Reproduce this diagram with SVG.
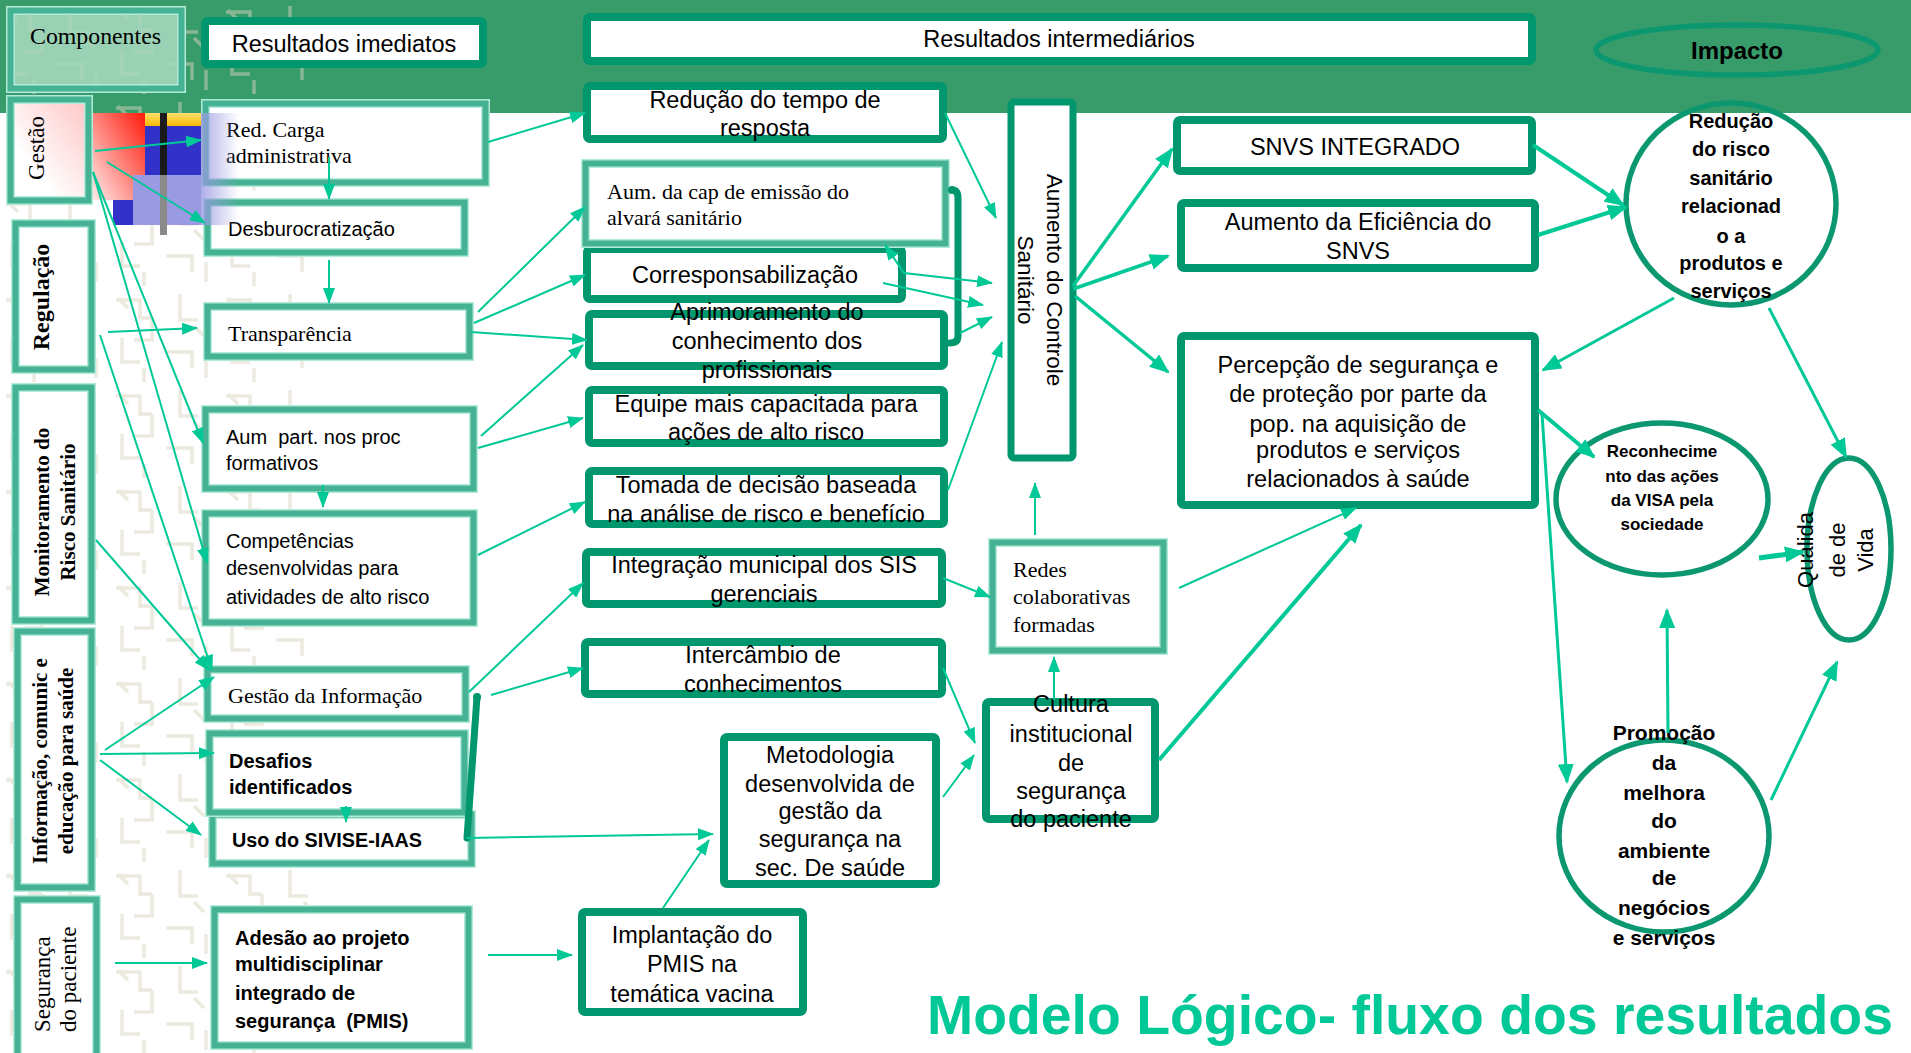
<svg xmlns="http://www.w3.org/2000/svg" width="1911" height="1053" viewBox="0 0 1911 1053">
<defs>
<style>
.tbl{fill:#fff;stroke:#b4eada;stroke-width:9}
.tb{fill:none;stroke:#45b393;stroke-width:6}
.db{fill:#fff;stroke:#00966e;stroke-width:8}
.el{fill:none;stroke:#0b9870;stroke-width:5.5}
.c{fill:none;stroke:#00c896;stroke-width:2;marker-end:url(#a)}
.ct{fill:none;stroke:#00c896;stroke-width:4;marker-end:url(#b)}
.br{fill:none;stroke:#00966e;stroke-width:7;stroke-linecap:round;stroke-linejoin:round}
.sans{font-family:"Liberation Sans",Arial,sans-serif;fill:#000}
.serif{font-family:"Liberation Serif","Times New Roman",serif;fill:#000}
.mid{font-family:"Liberation Sans",Arial,sans-serif;font-size:23.5px;text-anchor:middle;fill:#000}
.lr{font-family:"Liberation Sans",Arial,sans-serif;font-size:20px;fill:#000}
.lrb{font-family:"Liberation Sans",Arial,sans-serif;font-size:20px;font-weight:bold;fill:#000}
.sr{font-family:"Liberation Serif","Times New Roman",serif;font-size:22px;fill:#000}
.eb{font-family:"Liberation Sans",Arial,sans-serif;font-weight:bold;text-anchor:middle;fill:#000}
.rot{font-family:"Liberation Serif","Times New Roman",serif;font-weight:bold;text-anchor:middle;fill:#000}
</style>
<marker id="a" viewBox="0 0 16 12" refX="15" refY="6" markerWidth="16" markerHeight="12" markerUnits="userSpaceOnUse" orient="auto-start-reverse"><path d="M0,0 L16,6 L0,12 z" fill="#00c896"/></marker>
<marker id="b" viewBox="0 0 20 16" refX="18" refY="8" markerWidth="20" markerHeight="16" markerUnits="userSpaceOnUse" orient="auto"><path d="M0,0 L20,8 L0,16 z" fill="#00c896"/></marker>
<pattern id="tex" width="110" height="96" patternUnits="userSpaceOnUse">
<path d="M6 12 h24 v18 h12 M42 30 v22 h-18 M70 6 v26 h18 M12 50 v24 h18 M56 64 h26 v16 M34 80 v14 M84 38 l10 10 M18 20 l-10 -10 M96 70 v20" stroke="#d8d2bd" stroke-width="3.5" fill="none"/>
</pattern>
<linearGradient id="redg" x1="0" y1="1" x2="1" y2="0"><stop offset="0" stop-color="#ffe9e9"/><stop offset="1" stop-color="#ff1a0a"/></linearGradient>
<linearGradient id="pinkg" x1="0" y1="1" x2="1" y2="0"><stop offset="0.3" stop-color="#ffffff"/><stop offset="1" stop-color="#ffc4c4"/></linearGradient>
<linearGradient id="fade" x1="0" y1="0" x2="1" y2="0"><stop offset="0" stop-color="#9a9ae2" stop-opacity="0.8"/><stop offset="1" stop-color="#9a9ae2" stop-opacity="0"/></linearGradient>
<linearGradient id="yel" x1="0" y1="0" x2="0" y2="1"><stop offset="0" stop-color="#ffe070"/><stop offset="1" stop-color="#f5b800"/></linearGradient>
</defs>

<rect x="0" y="0" width="1911" height="1053" fill="#fff"/>
<rect id="header-band" x="0" y="0" width="1911" height="113" fill="#389b6a"/>
<rect x="0" y="0" width="310" height="1053" fill="url(#tex)" opacity="0.5"/>

<g id="componentes">
<rect x="10.5" y="10.5" width="171" height="78" fill="#a6d8bf" fill-opacity="0.88" stroke="#b4eada" stroke-width="9"/>
<rect x="10.5" y="10.5" width="171" height="78" class="tb"/>
<text class="serif" x="30" y="44" font-size="23" textLength="131" lengthAdjust="spacingAndGlyphs">Componentes</text>
</g>
<g id="resultados-imediatos">
<rect x="205" y="21" width="278" height="43" rx="3" class="db"/>
<text class="mid" x="344" y="52" font-size="22.5">Resultados imediatos</text>
</g>
<g id="resultados-intermediarios">
<rect x="587" y="17" width="945" height="44" rx="3" class="db"/>
<text class="mid" x="1059" y="47" font-size="22.5">Resultados intermediários</text>
</g>
<g id="impacto">
<ellipse cx="1737" cy="50" rx="141" ry="25" class="el"/>
<text class="eb" x="1737" y="59" font-size="24">Impacto</text>
</g>

<g id="gestao">
<rect x="10.5" y="99.5" width="78" height="101" fill="url(#pinkg)" stroke="#b4eada" stroke-width="9"/>
<rect x="10.5" y="99.5" width="78" height="101" class="tb"/>
<text class="serif" transform="translate(44,148) rotate(-90)" text-anchor="middle" font-size="23">Gestão</text>
</g>
<g id="regulacao">
<rect x="15.5" y="223.5" width="76" height="146" class="tbl"/><rect x="15.5" y="223.5" width="76" height="146" class="tb"/>
<text class="rot" transform="translate(49,297) rotate(-90)" font-size="24">Regulação</text>
</g>
<g id="monitoramento">
<rect x="15.5" y="387.5" width="76" height="233" class="tbl"/><rect x="15.5" y="387.5" width="76" height="233" class="tb"/>
<text class="rot" transform="translate(49,512) rotate(-90)" font-size="21">Monitoramento do</text>
<text class="rot" transform="translate(75,512) rotate(-90)" font-size="21">Risco Sanitário</text>
</g>
<g id="informacao">
<rect x="17.5" y="631.5" width="74" height="256" class="tbl"/><rect x="17.5" y="631.5" width="74" height="256" class="tb"/>
<text class="rot" transform="translate(47,761) rotate(-90)" font-size="21">Informação, comunic e</text>
<text class="rot" transform="translate(73,761) rotate(-90)" font-size="21">educação para saúde</text>
</g>
<g id="seguranca">
<rect x="17.5" y="899.5" width="79" height="170" class="tbl"/><rect x="17.5" y="899.5" width="79" height="170" class="tb"/>
<text class="serif" transform="translate(50,1032) rotate(-90)" font-size="23">Segurança</text>
<text class="serif" transform="translate(76,1032) rotate(-90)" font-size="23">do paciente</text>
</g>

<g id="red-carga">
<rect x="205.5" y="103.5" width="280" height="79" class="tbl"/><rect x="205.5" y="103.5" width="280" height="79" class="tb"/>
<text class="sr" x="226" y="137">Red. Carga</text>
<text class="sr" x="226" y="163">administrativa</text>
</g>
<g id="desburocratizacao">
<rect x="207.5" y="202.5" width="257" height="50" class="tbl"/><rect x="207.5" y="202.5" width="257" height="50" class="tb"/>
<text class="lr" x="228" y="236" font-size="21">Desburocratização</text>
</g>
<g id="transparencia">
<rect x="207.5" y="306.5" width="262" height="50" class="tbl"/><rect x="207.5" y="306.5" width="262" height="50" class="tb"/>
<text class="sr" x="228" y="341">Transparência</text>
</g>
<g id="aum-part">
<rect x="205.5" y="409.5" width="268" height="79" class="tbl"/><rect x="205.5" y="409.5" width="268" height="79" class="tb"/>
<text class="lr" x="226" y="444" xml:space="preserve">Aum  part. nos proc</text>
<text class="lr" x="226" y="470">formativos</text>
</g>
<g id="competencias">
<rect x="205.5" y="513.5" width="268" height="109" class="tbl"/><rect x="205.5" y="513.5" width="268" height="109" class="tb"/>
<text class="lr" x="226" y="548">Competências</text>
<text class="lr" x="226" y="575">desenvolvidas para</text>
<text class="lr" x="226" y="604">atividades de alto risco</text>
</g>
<g id="gestao-informacao">
<rect x="207.5" y="669.5" width="258" height="49" class="tbl"/><rect x="207.5" y="669.5" width="258" height="49" class="tb"/>
<text class="sr" x="228" y="703">Gestão da Informação</text>
</g>
<g id="uso-sivise">
<rect x="212.5" y="814.5" width="259" height="49" class="tbl"/><rect x="212.5" y="814.5" width="259" height="49" class="tb"/>
<text class="lrb" x="232" y="847" textLength="190" lengthAdjust="spacingAndGlyphs">Uso do SIVISE-IAAS</text>
</g>
<g id="desafios">
<rect x="209.5" y="733.5" width="255" height="79" class="tbl"/><rect x="209.5" y="733.5" width="255" height="79" class="tb"/>
<text class="lrb" x="229" y="768">Desafios</text>
<text class="lrb" x="229" y="794">identificados</text>
</g>
<g id="adesao">
<rect x="214.5" y="909.5" width="254" height="136" class="tbl"/><rect x="214.5" y="909.5" width="254" height="136" class="tb"/>
<text class="lrb" x="235" y="945">Adesão ao projeto</text>
<text class="lrb" x="235" y="971">multidisciplinar</text>
<text class="lrb" x="235" y="1000">integrado de</text>
<text class="lrb" x="235" y="1028" xml:space="preserve">segurança  (PMIS)</text>
</g>

<g id="reducao-tempo">
<rect x="587" y="86" width="356" height="53" rx="3" class="db"/>
<text class="mid" x="765" y="108">Redução do tempo de</text>
<text class="mid" x="765" y="136">resposta</text>
</g>
<g id="corresponsabilizacao">
<rect x="587" y="249" width="315" height="50" rx="3" class="db"/>
<text class="mid" x="745" y="283">Corresponsabilização</text>
</g>
<g id="aum-cap">
<rect x="585.5" y="163.5" width="360" height="80" class="tbl"/><rect x="585.5" y="163.5" width="360" height="80" class="tb"/>
<text class="sr" x="607" y="199">Aum. da cap de emissão do</text>
<text class="sr" x="607" y="225">alvará sanitário</text>
</g>
<g id="aprimoramento">
<rect x="589" y="314" width="355" height="52" rx="3" class="db"/>
<text class="mid" x="767" y="320">Aprimoramento do</text>
<text class="mid" x="767" y="349">conhecimento dos</text>
<text class="mid" x="767" y="378">profissionais</text>
</g>
<g id="equipe">
<rect x="589" y="390" width="355" height="53" rx="3" class="db"/>
<text class="mid" x="766" y="412">Equipe mais capacitada para</text>
<text class="mid" x="766" y="440">ações de alto risco</text>
</g>
<g id="tomada">
<rect x="589" y="471" width="355" height="53" rx="3" class="db"/>
<text class="mid" x="766" y="493">Tomada de decisão baseada</text>
<text class="mid" x="766" y="522">na análise de risco e benefício</text>
</g>
<g id="integracao">
<rect x="586" y="552" width="356" height="52" rx="3" class="db"/>
<text class="mid" x="764" y="573">Integração municipal dos SIS</text>
<text class="mid" x="764" y="602">gerenciais</text>
</g>
<g id="intercambio">
<rect x="585" y="642" width="357" height="52" rx="3" class="db"/>
<text class="mid" x="763" y="663">Intercâmbio de</text>
<text class="mid" x="763" y="692">conhecimentos</text>
</g>
<g id="metodologia">
<rect x="724" y="737" width="212" height="147" rx="3" class="db"/>
<text class="mid" x="830" y="763">Metodologia</text>
<text class="mid" x="830" y="792">desenvolvida de</text>
<text class="mid" x="830" y="819">gestão da</text>
<text class="mid" x="830" y="847">segurança na</text>
<text class="mid" x="830" y="876">sec. De saúde</text>
</g>
<g id="implantacao">
<rect x="582" y="912" width="221" height="100" rx="3" class="db"/>
<text class="mid" x="692" y="943">Implantação do</text>
<text class="mid" x="692" y="972">PMIS na</text>
<text class="mid" x="692" y="1002">temática vacina</text>
</g>
<g id="redes">
<rect x="992.5" y="542.5" width="171" height="108" class="tbl"/><rect x="992.5" y="542.5" width="171" height="108" class="tb"/>
<text class="sr" x="1013" y="577">Redes</text>
<text class="sr" x="1013" y="604">colaborativas</text>
<text class="sr" x="1013" y="632">formadas</text>
</g>
<g id="cultura">
<rect x="986" y="702" width="169" height="117" rx="3" class="db"/>
<text class="mid" x="1071" y="712">Cultura</text>
<text class="mid" x="1071" y="742">institucional</text>
<text class="mid" x="1071" y="771">de</text>
<text class="mid" x="1071" y="799">segurança</text>
<text class="mid" x="1071" y="827">do paciente</text>
</g>
<g id="aumento-controle">
<rect x="1011" y="102" width="62" height="356" rx="3" class="db" style="stroke-width:7"/>
<text class="sans" transform="translate(1047,280) rotate(90)" text-anchor="middle" font-size="22.5">Aumento do Controle</text>
<text class="sans" transform="translate(1018,280) rotate(90)" text-anchor="middle" font-size="22.5">Sanitário</text>
</g>
<g id="snvs">
<rect x="1177" y="120" width="355" height="51" rx="3" class="db"/>
<text class="mid" x="1355" y="155">SNVS INTEGRADO</text>
</g>
<g id="eficiencia">
<rect x="1181" y="203" width="354" height="65" rx="3" class="db"/>
<text class="mid" x="1358" y="230">Aumento da Eficiência do</text>
<text class="mid" x="1358" y="259">SNVS</text>
</g>
<g id="percepcao">
<rect x="1181" y="336" width="354" height="169" rx="3" class="db"/>
<text class="mid" x="1358" y="373">Percepção de segurança e</text>
<text class="mid" x="1358" y="402">de proteção por parte da</text>
<text class="mid" x="1358" y="432">pop. na aquisição de</text>
<text class="mid" x="1358" y="458">produtos e serviços</text>
<text class="mid" x="1358" y="487">relacionados à saúde</text>
</g>
<g id="reducao-risco">
<ellipse cx="1731" cy="204" rx="105" ry="101" class="el"/>
<text class="eb" x="1731" y="128" font-size="20">Redução</text>
<text class="eb" x="1731" y="156" font-size="20">do risco</text>
<text class="eb" x="1731" y="185" font-size="20">sanitário</text>
<text class="eb" x="1731" y="213" font-size="20">relacionad</text>
<text class="eb" x="1731" y="243" font-size="20">o a</text>
<text class="eb" x="1731" y="270" font-size="20">produtos e</text>
<text class="eb" x="1731" y="298" font-size="20">serviços</text>
</g>
<g id="reconhecimento">
<ellipse cx="1662" cy="499" rx="106" ry="76" class="el"/>
<text class="eb" x="1662" y="457" font-size="17">Reconhecime</text>
<text class="eb" x="1662" y="482" font-size="17">nto das ações</text>
<text class="eb" x="1662" y="506" font-size="17">da VISA pela</text>
<text class="eb" x="1662" y="530" font-size="17">sociedade</text>
</g>
<g id="qualidade">
<ellipse cx="1849" cy="549" rx="42" ry="91" class="el"/>
<text class="sans" transform="translate(1813,550) rotate(-90)" text-anchor="middle" font-size="22">Qualida</text>
<text class="sans" transform="translate(1845,550) rotate(-90)" text-anchor="middle" font-size="22">de de</text>
<text class="sans" transform="translate(1873,550) rotate(-90)" text-anchor="middle" font-size="22">Vida</text>
</g>
<g id="promocao">
<ellipse cx="1664" cy="836" rx="105" ry="96" class="el"/>
<text class="eb" x="1664" y="740" font-size="21">Promoção</text>
<text class="eb" x="1664" y="770" font-size="21">da</text>
<text class="eb" x="1664" y="800" font-size="21">melhora</text>
<text class="eb" x="1664" y="828" font-size="21">do</text>
<text class="eb" x="1664" y="858" font-size="21">ambiente</text>
<text class="eb" x="1664" y="885" font-size="21">de</text>
<text class="eb" x="1664" y="915" font-size="21">negócios</text>
<text class="eb" x="1664" y="945" font-size="21">e serviços</text>
</g>

<g id="gestao-image">
<rect x="93" y="113" width="52" height="87" fill="url(#redg)"/>
<rect x="145" y="113" width="56" height="13" fill="url(#yel)"/>
<rect x="145" y="126" width="56" height="49" fill="#3232c8"/>
<rect x="133" y="175" width="68" height="50" fill="#9a9ae2"/>
<rect x="201" y="113" width="38" height="112" fill="url(#fade)"/>
<rect x="113" y="200" width="20" height="25" fill="#3232c8"/>
<rect x="160" y="113" width="7" height="62" fill="#1a1a1a"/>
<rect x="160" y="175" width="7" height="60" fill="#8a8a8a"/>
</g>

<g id="connectors">
<path class="c" d="M95,151 L201,140"/>
<path class="c" d="M107,162 L205,223"/>
<path class="c" d="M329,157 L329,199"/>
<path class="c" d="M329,260 L329,303"/>
<path class="c" d="M488,142 L585,113"/>
<path class="c" d="M108,332 L197,328"/>
<path class="c" d="M478,312 L585,207"/>
<path class="c" d="M474,323 L585,275"/>
<path class="c" d="M471,332 L587,340"/>
<path class="c" d="M93,172 L203,443"/>
<path class="c" d="M93,172 L207,563"/>
<path class="c" d="M100,335 L212,670"/>
<path class="c" d="M96,540 L209,670"/>
<path class="c" d="M105,750 L214,677"/>
<path class="c" d="M100,754 L214,753"/>
<path class="c" d="M100,760 L201,835"/>
<path class="c" d="M115,963 L207,963"/>
<path class="c" d="M346,806 L346,822"/>
<path class="c" d="M323,485 L323,507"/>
<path class="c" d="M481,436 L583,345"/>
<path class="c" d="M478,448 L583,418"/>
<path class="c" d="M478,555 L585,502"/>
<path class="c" d="M469,692 L583,583"/>
<path class="c" d="M491,695 L583,668"/>
<path class="br" d="M477,697 L467,838"/>
<circle cx="477" cy="697" r="4" fill="#00966e"/>
<path class="c" d="M467,838 L713,834"/>
<path class="c" d="M488,955 L572,955"/>
<path class="c" d="M663,908 L709,840"/>
<path class="br" d="M952,190 Q958,190 958,198 L958,336 Q958,343 950,343"/>
<circle cx="952" cy="190" r="4" fill="#00966e"/>
<path class="c" d="M945,113 L996,218"/>
<path class="c" d="M885,245 L904,273 L992,283" style="marker-start:url(#a)"/>
<path class="c" d="M883,283 L983,305"/>
<path class="c" d="M960,333 L992,317"/>
<path class="c" d="M948,490 L1002,342"/>
<path class="c" d="M943,578 L990,597"/>
<path class="c" d="M1035,535 L1035,483"/>
<path class="c" d="M943,668 L975,743"/>
<path class="c" d="M943,797 L974,755"/>
<path class="c" d="M1054,700 L1054,657"/>
<path class="ct" d="M1073,286 L1172,149" style="stroke-width:3.5"/>
<path class="ct" d="M1073,289 L1168,256" style="stroke-width:3.5"/>
<path class="ct" d="M1075,296 L1168,372" style="stroke-width:3.5"/>
<path class="ct" d="M1533,145 L1623,205"/>
<path class="ct" d="M1538,235 L1626,207"/>
<path class="ct" d="M1674,298 L1543,370" style="stroke-width:3"/>
<path class="ct" d="M1769,308 L1846,457" style="stroke-width:3"/>
<path class="ct" d="M1538,410 L1594,457"/>
<path class="ct" d="M1759,558 L1803,552" style="stroke-width:5"/>
<path class="ct" d="M1542,414 L1567,782" style="stroke-width:3"/>
<path class="ct" d="M1668,733 L1667,610" style="stroke-width:3"/>
<path class="ct" d="M1771,800 L1837,662" style="stroke-width:3"/>
<path class="c" d="M1179,588 L1356,508"/>
<path class="ct" d="M1159,760 L1361,525"/>
</g>

<text id="title" x="927" y="1034" font-family="Liberation Sans, Arial, sans-serif" font-weight="bold" font-size="56" fill="#00c896" textLength="966" lengthAdjust="spacingAndGlyphs">Modelo Lógico- fluxo dos resultados</text>
</svg>
